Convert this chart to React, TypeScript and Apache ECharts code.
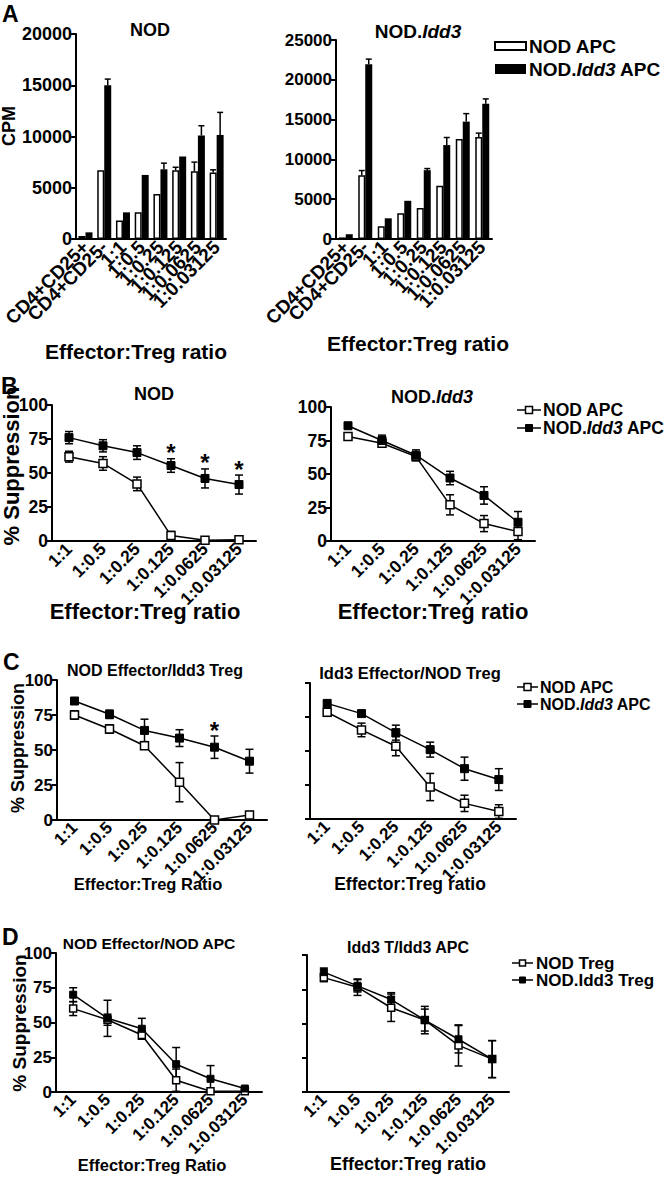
import React, { useEffect, useRef } from "react";
import * as echarts from "echarts";

const FONT = "'Liberation Sans', Arial, Helvetica, sans-serif";

// ---------- DATA ----------
const catsA = ["CD4+CD25+", "CD4+CD25-", "1:1", "1:0.5", "1:0.25", "1:0.125", "1:0.0625", "1:0.03125"];
const catsR = ["1:1", "1:0.5", "1:0.25", "1:0.125", "1:0.0625", "1:0.03125"];

// Panel A (CPM)
const aNodOpen = [300, 6700, 1800, 2600, 4400, 6700, 6600, 6500];
const aNodOpenErr = [0, 0, 0, 0, 0, 300, 900, 250];
const aNodFilled = [650, 15000, 2600, 6250, 6800, 8050, 10100, 10150];
const aNodFilledErr = [0, 600, 0, 0, 600, 0, 950, 2200];
const aIddOpen = [200, 8000, 1600, 3250, 3900, 6700, 12550, 12800];
const aIddOpenErr = [0, 600, 0, 0, 0, 0, 0, 500];
const aIddFilled = [600, 21950, 2600, 4800, 8650, 11800, 14750, 17000];
const aIddFilledErr = [0, 650, 0, 0, 200, 950, 1000, 600];

// Panel B (% suppression)
const bNodOpen = [62, 57, 42, 4, 0.5, 1];
const bNodOpenErr = [4, 5, 5, 3, 0, 0];
const bNodFilled = [76, 70, 65, 55.5, 46, 41.5];
const bNodFilledErr = [4.5, 4.5, 5, 5, 7, 7];
const bNodStars = [3, 4, 5];
const bIddOpen = [78, 73, 63, 27, 13, 7];
const bIddOpenErr = [2.5, 3, 3, 7.5, 6, 6];
const bIddFilled = [86, 75, 64, 47, 34, 14];
const bIddFilledErr = [2, 4, 4, 5, 6.5, 8];

// Panel C
const cLeftOpen = [75, 65, 53, 27, 0, 3.5];
const cLeftOpenErr = [3, 3, 1, 14, 0, 2.5];
const cLeftFilled = [85, 75.5, 64, 58.5, 52, 42];
const cLeftFilledErr = [1, 3, 8, 6, 8, 8.5];
const cLeftStars = [4];
const cRightOpen = [78.5, 65.5, 53.5, 23.5, 11.5, 5.5];
const cRightOpenErr = [3, 5, 7, 10, 6, 5];
const cRightFilled = [85, 77.5, 63.5, 51, 37, 29];
const cRightFilledErr = [2, 2, 5.5, 5.5, 8.5, 8];

// Panel D
const dLeftOpen = [60, 52, 41, 8.5, 0.5, 0.5];
const dLeftOpenErr = [5, 4, 3, 8, 0, 0];
const dLeftFilled = [70, 53, 45.5, 20, 9.5, 2.5];
const dLeftFilledErr = [5, 13, 7.5, 12, 9.5, 1];
const dRightOpen = [83.5, 76.5, 61.5, 52.5, 34, 24];
const dRightOpenErr = [3, 6, 10, 10, 15, 13.5];
const dRightFilled = [87.5, 77.5, 67.5, 52.5, 38.5, 24];
const dRightFilledErr = [3, 4.5, 5, 8, 10, 13.5];

// ---------- LAYOUT ----------
const grids = [
  { left: 72, top: 34, width: 154, height: 205 },
  { left: 336, top: 40, width: 156, height: 199 },
  { left: 52, top: 405, width: 204, height: 136 },
  { left: 331, top: 407, width: 204, height: 134 },
  { left: 57, top: 680, width: 210, height: 140 },
  { left: 310, top: 683, width: 206, height: 136 },
  { left: 56, top: 953, width: 206, height: 139 },
  { left: 307, top: 955, width: 202, height: 137 },
];

const BAR_W = 7;

function xAxisFor(i: number, cats: string[], fs: number) {
  return {
    type: "category",
    gridIndex: i,
    data: cats,
    boundaryGap: true,
    axisLine: { lineStyle: { color: "#000", width: 2 } },
    axisTick: { show: false },
    axisLabel: {
      rotate: 45,
      interval: 0,
      color: "#000",
      fontWeight: "bold",
      fontSize: fs,
      fontFamily: FONT,
      margin: 5,
    },
    splitLine: { show: false },
  };
}

function yAxisFor(i: number, max: number, interval: number, fs: number, showLabel = true) {
  return {
    type: "value",
    gridIndex: i,
    min: 0,
    max,
    interval,
    axisLine: { show: true, lineStyle: { color: "#000", width: 2 } },
    axisTick: { show: true, length: 5, lineStyle: { color: "#000", width: 2 } },
    axisLabel: {
      show: showLabel,
      color: "#000",
      fontWeight: "bold",
      fontSize: fs,
      fontFamily: FONT,
      margin: 4,
      formatter: (v: number) => String(v),
    },
    splitLine: { show: false },
  };
}

function barErrData(vals: number[], errs: number[]) {
  const out: number[][] = [];
  vals.forEach((v, i) => {
    if (errs[i] > 0) out.push([i, v, v + errs[i]]);
  });
  return out;
}

function lineErrData(vals: number[], errs: number[]) {
  const out: number[][] = [];
  vals.forEach((v, i) => {
    if (errs[i] > 0) out.push([i, v - errs[i], v + errs[i]]);
  });
  return out;
}

const stroke = { stroke: "#000", lineWidth: 1.5 };

function barErrSeries(gi: number, vals: number[], errs: number[], offset: number) {
  return {
    type: "custom",
    xAxisIndex: gi,
    yAxisIndex: gi,
    z: 5,
    data: barErrData(vals, errs),
    renderItem: (_p: any, api: any) => {
      const i = api.value(0);
      const a = api.coord([i, api.value(1)]);
      const b = api.coord([i, api.value(2)]);
      const x = a[0] + offset;
      return {
        type: "group",
        children: [
          { type: "line", shape: { x1: x, y1: a[1], x2: x, y2: b[1] }, style: stroke },
          { type: "line", shape: { x1: x - 3, y1: b[1], x2: x + 3, y2: b[1] }, style: stroke },
        ],
      };
    },
  };
}

function lineErrSeries(gi: number, vals: number[], errs: number[]) {
  return {
    type: "custom",
    xAxisIndex: gi,
    yAxisIndex: gi,
    z: 1,
    data: lineErrData(vals, errs),
    renderItem: (_p: any, api: any) => {
      const i = api.value(0);
      const a = api.coord([i, api.value(1)]);
      const b = api.coord([i, api.value(2)]);
      const x = a[0];
      const w = 4;
      return {
        type: "group",
        children: [
          { type: "line", shape: { x1: x, y1: a[1], x2: x, y2: b[1] }, style: stroke },
          { type: "line", shape: { x1: x - w, y1: a[1], x2: x + w, y2: a[1] }, style: stroke },
          { type: "line", shape: { x1: x - w, y1: b[1], x2: x + w, y2: b[1] }, style: stroke },
        ],
      };
    },
  };
}

function starSeries(gi: number, idx: number[], vals: number[], errs: number[]) {
  return {
    type: "custom",
    xAxisIndex: gi,
    yAxisIndex: gi,
    z: 6,
    data: idx.map((i) => [i, vals[i] + errs[i]]),
    renderItem: (_p: any, api: any) => {
      const p = api.coord([api.value(0), api.value(1)]);
      return {
        type: "text",
        style: {
          text: "*",
          x: p[0],
          y: p[1] + 6,
          textAlign: "center",
          textVerticalAlign: "bottom",
          fontSize: 24,
          fontWeight: "bold",
          fontFamily: FONT,
          fill: "#000",
        },
      };
    },
  };
}

function lineSeries(gi: number, name: string, vals: number[], open: boolean, size = 8) {
  return {
    type: "line",
    name,
    xAxisIndex: gi,
    yAxisIndex: gi,
    data: vals,
    z: 3,
    symbol: "rect",
    symbolSize: size,
    lineStyle: { color: "#000", width: 1.5 },
    itemStyle: open
      ? { color: "#fff", borderColor: "#000", borderWidth: 1.5 }
      : { color: "#000", borderColor: "#000", borderWidth: 1 },
  };
}

function barSeries(gi: number, name: string, vals: number[], open: boolean) {
  return {
    type: "bar",
    name,
    xAxisIndex: gi,
    yAxisIndex: gi,
    data: vals,
    barWidth: BAR_W,
    barGap: "0%",
    itemStyle: open
      ? { color: "#fff", borderColor: "#000", borderWidth: 1.5 }
      : { color: "#000" },
  };
}

function txt(
  text: string,
  x: number,
  y: number,
  fs: number,
  align: string = "center",
  rot = 0,
  italicRich = false,
  lh?: number
) {
  const style: any = {
    text,
    fontSize: fs,
    fontWeight: "bold",
    fontFamily: FONT,
    fill: "#000",
    textAlign: align,
    textVerticalAlign: "middle",
  };
  if (lh) style.lineHeight = lh;
  if (italicRich) {
    style.rich = {
      i: {
        fontSize: fs,
        fontWeight: "bold",
        fontStyle: "italic",
        fontFamily: FONT,
        fill: "#000",
        ...(lh ? { lineHeight: lh } : {}),
      },
    };
  }
  return { type: "text", x, y, rotation: rot, style, silent: true };
}

function legendLine(x1: number, x2: number, y: number, open: boolean, size: number) {
  const cx = (x1 + x2) / 2;
  return [
    { type: "line", shape: { x1, y1: y, x2, y2: y }, style: { stroke: "#000", lineWidth: 1.5 } },
    {
      type: "rect",
      shape: { x: cx - size / 2, y: y - size / 2, width: size, height: size },
      style: open
        ? { fill: "#fff", stroke: "#000", lineWidth: 1.5 }
        : { fill: "#000", stroke: "#000", lineWidth: 1 },
    },
  ];
}

export default function App() {
  const ref = useRef<HTMLDivElement>(null);

  useEffect(() => {
    if (!ref.current) return;
    const chart = echarts.init(ref.current, undefined, { renderer: "svg" });

    const xAxis = [
      xAxisFor(0, catsA, 19),
      xAxisFor(1, catsA, 19),
      xAxisFor(2, catsR, 17.5),
      xAxisFor(3, catsR, 17.5),
      xAxisFor(4, catsR, 17),
      xAxisFor(5, catsR, 17),
      xAxisFor(6, catsR, 17),
      xAxisFor(7, catsR, 17),
    ];
    const yAxis = [
      yAxisFor(0, 20000, 5000, 18),
      yAxisFor(1, 25000, 5000, 17),
      yAxisFor(2, 100, 25, 17.5),
      yAxisFor(3, 100, 25, 17.5),
      yAxisFor(4, 100, 25, 17),
      yAxisFor(5, 100, 25, 17, false),
      yAxisFor(6, 100, 25, 17),
      yAxisFor(7, 100, 25, 17, false),
    ];

    const half = BAR_W / 2;
    const series: any[] = [
      barSeries(0, "NOD APC", aNodOpen, true),
      barSeries(0, "NOD.Idd3 APC", aNodFilled, false),
      barErrSeries(0, aNodOpen, aNodOpenErr, -half),
      barErrSeries(0, aNodFilled, aNodFilledErr, half),
      barSeries(1, "NOD APC", aIddOpen, true),
      barSeries(1, "NOD.Idd3 APC", aIddFilled, false),
      barErrSeries(1, aIddOpen, aIddOpenErr, -half),
      barErrSeries(1, aIddFilled, aIddFilledErr, half),

      lineErrSeries(2, bNodOpen, bNodOpenErr),
      lineErrSeries(2, bNodFilled, bNodFilledErr),
      lineSeries(2, "NOD APC", bNodOpen, true),
      lineSeries(2, "NOD.Idd3 APC", bNodFilled, false),
      starSeries(2, bNodStars, bNodFilled, bNodFilledErr),

      lineErrSeries(3, bIddOpen, bIddOpenErr),
      lineErrSeries(3, bIddFilled, bIddFilledErr),
      lineSeries(3, "NOD APC", bIddOpen, true),
      lineSeries(3, "NOD.Idd3 APC", bIddFilled, false),

      lineErrSeries(4, cLeftOpen, cLeftOpenErr),
      lineErrSeries(4, cLeftFilled, cLeftFilledErr),
      lineSeries(4, "NOD APC", cLeftOpen, true),
      lineSeries(4, "NOD.Idd3 APC", cLeftFilled, false),
      starSeries(4, cLeftStars, cLeftFilled, cLeftFilledErr),

      lineErrSeries(5, cRightOpen, cRightOpenErr),
      lineErrSeries(5, cRightFilled, cRightFilledErr),
      lineSeries(5, "NOD APC", cRightOpen, true),
      lineSeries(5, "NOD.Idd3 APC", cRightFilled, false),

      lineErrSeries(6, dLeftOpen, dLeftOpenErr),
      lineErrSeries(6, dLeftFilled, dLeftFilledErr),
      lineSeries(6, "NOD Treg", dLeftOpen, true, 7),
      lineSeries(6, "NOD.Idd3 Treg", dLeftFilled, false, 7),

      lineErrSeries(7, dRightOpen, dRightOpenErr),
      lineErrSeries(7, dRightFilled, dRightFilledErr),
      lineSeries(7, "NOD Treg", dRightOpen, true, 7),
      lineSeries(7, "NOD.Idd3 Treg", dRightFilled, false, 7),
    ];

    const graphic: any[] = [
      // panel letters
      txt("A", 2, 14, 23, "left"),
      txt("B", 1, 386, 23, "left"),
      txt("C", 3, 662, 23, "left"),
      txt("D", 2, 937, 23, "left"),
      // titles
      txt("NOD", 150, 30, 18),
      txt("NOD.{i|Idd3}", 418, 31, 19, "center", 0, true),
      txt("NOD", 154, 394, 18),
      txt("NOD.{i|Idd3}", 432, 397, 18, "center", 0, true),
      txt("NOD Effector/Idd3 Treg", 155, 670, 16),
      txt("Idd3 Effector/NOD Treg", 410, 673, 16.5),
      txt("NOD Effector/NOD APC", 149, 943, 15.5),
      txt("Idd3 T/Idd3 APC", 408, 947, 16),
      // y names
      txt("CPM", 9, 126, 18, "center", Math.PI / 2),
      txt("% Suppression", 11, 466, 22, "center", Math.PI / 2),
      txt("% Suppression", 18, 748, 18, "center", Math.PI / 2),
      txt("% Suppression", 19, 1023, 19, "center", Math.PI / 2),
      // x names
      txt("Effector:Treg ratio", 136, 351, 21),
      txt("Effector:Treg ratio", 418, 343, 21),
      txt("Effector:Treg ratio", 145, 611, 22),
      txt("Effector:Treg ratio", 433, 611, 22),
      txt("Effector:Treg Ratio", 148, 884, 16.5),
      txt("Effector:Treg ratio", 410, 884, 17.5),
      txt("Effector:Treg Ratio", 152, 1165, 16.5),
      txt("Effector:Treg ratio", 408, 1164, 18),
      // legend A
      {
        type: "rect",
        shape: { x: 495, y: 42, width: 31, height: 8 },
        style: { fill: "#fff", stroke: "#000", lineWidth: 2 },
      },
      { type: "rect", shape: { x: 495, y: 64, width: 31, height: 10 }, style: { fill: "#000" } },
      txt("NOD APC", 529, 46.5, 19, "left"),
      txt("NOD.{i|Idd3} APC", 529, 69, 19, "left", 0, true),
      // legend B
      ...legendLine(517, 541, 410, true, 7),
      ...legendLine(517, 541, 428, false, 7),
      txt("NOD APC", 543, 410, 17.5, "left", 0, false, 16),
      txt("NOD.{i|Idd3} APC", 543, 428, 17.5, "left", 0, true, 16),
      // legend C
      ...legendLine(517, 538, 687, true, 7),
      ...legendLine(517, 538, 704, false, 7),
      txt("NOD APC", 540, 687, 16, "left", 0, false, 15),
      txt("NOD.{i|Idd3} APC", 540, 704, 16, "left", 0, true, 15),
      // legend D
      ...legendLine(512, 533, 963, true, 6),
      ...legendLine(512, 533, 980, false, 6),
      txt("NOD Treg", 536, 963, 17, "left", 0, false, 13),
      txt("NOD.Idd3 Treg", 536, 980, 17, "left", 0, false, 13),
    ];

    chart.setOption({
      animation: false,
      backgroundColor: "#fff",
      textStyle: { fontFamily: FONT },
      grid: grids.map((g) => ({ ...g, containLabel: false })),
      xAxis,
      yAxis,
      series,
      graphic,
    });

    return () => chart.dispose();
  }, []);

  return (
    <div
      ref={ref}
      style={{ position: "absolute", left: 0, top: 0, width: 672, height: 1179, background: "#fff" }}
    />
  );
}
